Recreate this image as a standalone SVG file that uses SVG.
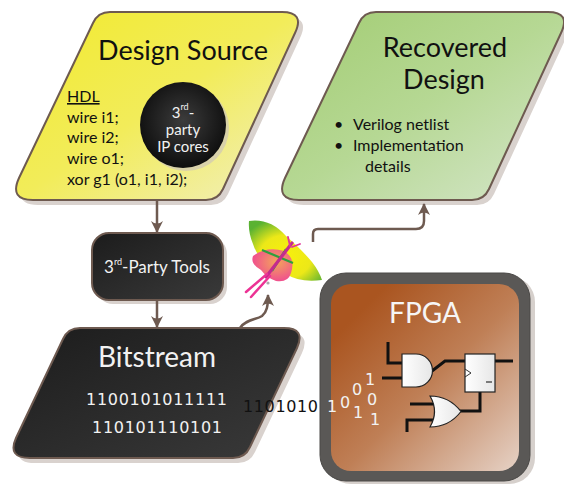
<svg xmlns="http://www.w3.org/2000/svg" width="564" height="484" viewBox="0 0 564 484">
  <defs>
    <linearGradient id="gYellow" x1="0" y1="0" x2="1" y2="1">
      <stop offset="0" stop-color="#f2ea2e"/>
      <stop offset="0.5" stop-color="#f2ec5a"/>
      <stop offset="1" stop-color="#f1efc4"/>
    </linearGradient>
    <linearGradient id="gGreen" x1="0" y1="0" x2="1" y2="1">
      <stop offset="0" stop-color="#a2cc72"/>
      <stop offset="0.5" stop-color="#b6d894"/>
      <stop offset="1" stop-color="#d6e6cc"/>
    </linearGradient>
    <linearGradient id="gDark" x1="0" y1="0" x2="1" y2="1">
      <stop offset="0" stop-color="#1c1c1c"/>
      <stop offset="1" stop-color="#3a3a3a"/>
    </linearGradient>
    <radialGradient id="gBall" cx="0.5" cy="0.45" r="0.55">
      <stop offset="0" stop-color="#3c3c3c"/>
      <stop offset="1" stop-color="#0e0e0e"/>
    </radialGradient>
    <linearGradient id="gBrown" x1="0.15" y1="0.15" x2="1" y2="1">
      <stop offset="0" stop-color="#aa5520"/>
      <stop offset="0.45" stop-color="#bf7f56"/>
      <stop offset="1" stop-color="#e6d2c6"/>
    </linearGradient>
    <linearGradient id="gGate" x1="0" y1="0" x2="1" y2="0">
      <stop offset="0" stop-color="#ffffff"/>
      <stop offset="1" stop-color="#e6e6e6"/>
    </linearGradient>
    <radialGradient id="gWing" cx="0.5" cy="0.6" r="0.65">
      <stop offset="0" stop-color="#f8f00c"/>
      <stop offset="0.55" stop-color="#ece818"/>
      <stop offset="1" stop-color="#5ab232"/>
    </radialGradient>
    <radialGradient id="gHind" cx="0.6" cy="0.4" r="0.6">
      <stop offset="0" stop-color="#f3a65a"/>
      <stop offset="1" stop-color="#f0508e"/>
    </radialGradient>
    <marker id="arrow" viewBox="0 0 12 12" refX="11" refY="6" markerWidth="12" markerHeight="12" markerUnits="userSpaceOnUse" orient="auto">
      <path d="M12,6 L0,0 Q5,6 0,12 Z" fill="#6e5a50"/>
    </marker>
    <style>
      .shadow { fill: #d9d2ce; }
      .frame { stroke: #6e5a50; stroke-width: 2; }
      .title { font-family: Lato, "Open Sans", "Liberation Sans", sans-serif; font-size: 27px; text-anchor: middle; fill: #111; }
      .body { font-family: Lato, "Open Sans", "Liberation Sans", sans-serif; font-size: 16px; fill: #111; }
      .light { fill: #f2f2f2; }
      .sup { font-size: 9px; }
      .bits { font-family: "DejaVu Sans", "Liberation Sans", sans-serif; font-size: 16px; }
      .conn { fill: none; stroke: #6e5a50; stroke-width: 2.5; marker-end: url(#arrow); }
      .wire { fill: none; stroke: #111; stroke-width: 3; }
      .gate { fill: url(#gGate); stroke: #222; stroke-width: 1.2; }
    </style>
  </defs>

  <!-- Design source -->
  <g id="design-source">
    <path class="shadow" transform="translate(5,5)" d="M110,12 L282,12 Q305,12 295,33 L223,189 Q218,200 206,200 L33,200 Q9,200 19,178 L93,23 Q98,12 110,12 Z"/>
    <path class="frame" fill="url(#gYellow)" d="M110,12 L282,12 Q305,12 295,33 L223,189 Q218,200 206,200 L33,200 Q9,200 19,178 L93,23 Q98,12 110,12 Z"/>
    <text class="title" x="183" y="60">Design Source</text>
    <text class="body" x="67" y="102" text-decoration="underline">HDL</text>
    <text class="body" x="67" y="123">wire i1;</text>
    <text class="body" x="67" y="143">wire i2;</text>
    <text class="body" x="67" y="164">wire o1;</text>
    <text class="body" x="67" y="185">xor g1 (o1, i1, i2);</text>
  </g>

  <!-- 3rd-party IP cores -->
  <g id="ip-cores">
    <circle cx="186" cy="128" r="43" fill="#cfc6b8" opacity="0.7"/>
    <circle cx="183" cy="125" r="43" fill="url(#gBall)"/>
    <text class="body light" x="183" y="118" text-anchor="middle" style="font-size:15px">3<tspan class="sup" dy="-8">rd</tspan><tspan dy="8">-</tspan></text>
    <text class="body light" x="183" y="135" text-anchor="middle" style="font-size:15px">party</text>
    <text class="body light" x="183" y="152" text-anchor="middle" style="font-size:15px">IP cores</text>
  </g>

  <!-- Recovered design -->
  <g id="recovered-design">
    <path class="shadow" transform="translate(5,5)" d="M376,12 L548,12 Q571,12 561,33 L489,189 Q484,200 472,200 L299,200 Q275,200 285,178 L359,23 Q364,12 376,12 Z"/>
    <path class="frame" fill="url(#gGreen)" d="M376,12 L548,12 Q571,12 561,33 L489,189 Q484,200 472,200 L299,200 Q275,200 285,178 L359,23 Q364,12 376,12 Z"/>
    <text class="title" x="445" y="57">Recovered</text>
    <text class="title" x="444" y="89">Design</text>
    <text class="body" x="334" y="130">•</text>
    <text class="body" x="353" y="130">Verilog netlist</text>
    <text class="body" x="334" y="151">•</text>
    <text class="body" x="353" y="151">Implementation</text>
    <text class="body" x="365" y="172">details</text>
  </g>

  <!-- 3rd-party tools -->
  <g id="tools">
    <rect class="shadow" x="96" y="237" width="131" height="67" rx="17"/>
    <rect class="frame" x="92" y="233" width="131" height="67" rx="17" fill="url(#gDark)"/>
    <text class="body light" x="157" y="273" text-anchor="middle" style="font-size:17px">3<tspan class="sup" dy="-8">rd</tspan><tspan dy="8">-Party Tools</tspan></text>
  </g>

  <!-- Bitstream -->
  <g id="bitstream">
    <path class="shadow" transform="translate(5,5)" d="M80,328 L284,328 Q306,328 297,348 L250,447 Q245,458 233,458 L30,458 Q7,458 16,438 L63,339 Q68,328 80,328 Z"/>
    <path class="frame" fill="url(#gDark)" d="M80,328 L284,328 Q306,328 297,348 L250,447 Q245,458 233,458 L30,458 Q7,458 16,438 L63,339 Q68,328 80,328 Z"/>
    <text class="title light" x="157" y="367" style="font-size:28px">Bitstream</text>
    <text class="bits light" x="86" y="405" textLength="141">1100101011111</text>
    <text class="bits light" x="92" y="433" textLength="130">110101110101</text>
  </g>

  <!-- Moth emblem -->
  <g id="moth">
    <path d="M249,221 Q270,218 286,236 Q302,250 312,262 Q319,271 322,280 Q300,283 286,274 L274,268 Q258,260 253,244 Q248,232 249,221 Z" fill="url(#gWing)"/>
    <path d="M253,256 Q267,246 284,251 Q296,258 291,273 Q288,283 276,281 Q267,278 261,270 Q250,264 253,256 Z" fill="url(#gHind)"/>
    <path d="M262,250 L293,263 M272,271 L286,249" stroke="#2e9e3e" stroke-width="2.2" fill="none"/>
    <path d="M292,243 L266,277" stroke="#c42a8e" stroke-width="3.2" fill="none" stroke-linecap="round"/>
    <path d="M290,246 L288,237 M292,247 L300,244" stroke="#e0349a" stroke-width="1.8" fill="none" stroke-linecap="round"/>
    <path d="M267,274 L246,292 M270,276 L251,297" stroke="#ec3294" stroke-width="2.5" fill="none" stroke-linecap="round"/>
    <circle cx="268" cy="283" r="1.6" fill="#aaa"/>
  </g>

  <!-- FPGA -->
  <g id="fpga">
    <rect x="325" y="276" width="210" height="208" rx="26" fill="#d6d0cc"/>
    <rect x="320" y="273" width="210" height="208" rx="26" fill="#5a5856" stroke="#4a4846" stroke-width="1"/>
    <rect x="331" y="284" width="188" height="187" rx="20" fill="url(#gBrown)"/>
    <text class="title" x="425" y="323" style="font-size:28px;fill:#f6f6f6">FPGA</text>
    <path class="wire" d="M388,342 L388,363 L402,363"/>
    <path class="wire" d="M382,378 L402,378"/>
    <path class="wire" d="M432,371 L445,361 L465,361"/>
    <path class="wire" d="M495,361 L513,361"/>
    <path class="wire" d="M480,392 L480,411 L458,411"/>
    <path class="wire" d="M410,404 L434,404"/>
    <path class="wire" d="M407,432 L407,420 L433,420"/>
    <path class="gate" d="M402,354 L416,354 A16.5,16.5 0 0 1 416,387 L402,387 Z"/>
    <path class="gate" d="M430,396 Q449,396 461,411.5 Q449,427 430,427 Q439,411.5 430,396 Z"/>
    <rect class="gate" x="465" y="354" width="30" height="38"/>
    <path d="M465,369 L471,373 L465,377" fill="none" stroke="#333" stroke-width="1"/>
    <path d="M486,382 L492,382" stroke="#555" stroke-width="1.5"/>
    <text class="bits" x="243" y="412" fill="#111" textLength="75">1101010</text>
    <g class="bits light">
      <text x="327" y="412">1</text>
      <text x="340" y="408">0</text>
      <text x="352" y="395">0</text>
      <text x="365" y="385">1</text>
      <text x="367" y="405">0</text>
      <text x="353" y="418">1</text>
      <text x="370" y="425">1</text>
    </g>
  </g>

  <!-- Connectors -->
  <g id="connectors">
    <path class="conn" d="M157,201 L157,232"/>
    <path class="conn" d="M157,301 L157,327"/>
    <path class="conn" d="M240,328 C246,319 256,320 262,316 C267,312 268,306 268,295"/>
    <path class="conn" d="M313,242 L313,234 Q313,229 318,229 L416,229 Q424,229 424,221 L424,204"/>
  </g>
</svg>
